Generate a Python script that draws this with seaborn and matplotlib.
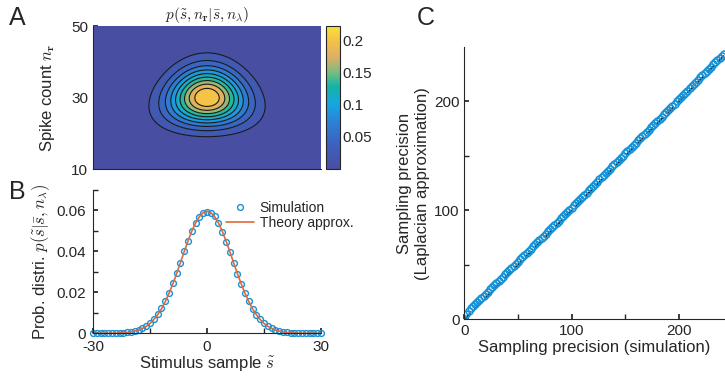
import matplotlib

matplotlib.use("Agg")

import matplotlib.pyplot as plt
import numpy as np
import pandas as pd
import seaborn as sns
from math import lgamma
from matplotlib.colors import LinearSegmentedColormap, Normalize
from matplotlib.cm import ScalarMappable
from matplotlib.ticker import MultipleLocator, FixedLocator, NullFormatter

# ---- panel A: joint distribution p(s~, n_r | s_bar, n_lambda) (model parameters)
stim_range = [-30, 30]
count_range = [10, 50]
mean_count = 30.0          # Poisson mean of spike count
stim_width_const = 1466.0  # variance of s~ is this / n_r  (sd ~7 at n_r = 30)
joint_peak = 0.222
contour_levels = [0.0, 0.0222, 0.0444, 0.0666, 0.0888, 0.111, 0.1332, 0.1554, 0.1776, 0.1998, 0.222]
cbar_ticks = [0.05, 0.1, 0.15, 0.2]
cbar_ticklabels = ["0.05", "0.1", "0.15", "0.2"]

# ---- panel B: marginal of s~
stim_sample = list(range(-30, 31))
sim_right = [0.0592, 0.0587, 0.0570, 0.0536, 0.0494, 0.0447, 0.0396, 0.0341, 0.0289, 0.0241,
             0.0194, 0.0155, 0.0120, 0.0090, 0.0068, 0.0049, 0.0035, 0.0025, 0.0017, 0.0011,
             0.0008, 0.0005, 0.0003, 0.0002, 0.0001, 0.0001, 0.0000, 0.0000, 0.0000, 0.0000, 0.0000]
sim_left = [0.0592, 0.0588, 0.0568, 0.0539, 0.0497, 0.0449, 0.0399, 0.0343, 0.0292, 0.0243,
            0.0197, 0.0156, 0.0122, 0.0092, 0.0069, 0.0050, 0.0036, 0.0025, 0.0017, 0.0012,
            0.0008, 0.0005, 0.0003, 0.0002, 0.0001, 0.0001, 0.0000, 0.0000, 0.0000, 0.0000, 0.0000]
theory_half = [0.0595, 0.0588, 0.0569, 0.0538, 0.0498, 0.0450, 0.0398, 0.0344, 0.0291, 0.0241,
               0.0195, 0.0154, 0.0119, 0.0090, 0.0067, 0.0048, 0.0034, 0.0024, 0.0016, 0.0011,
               0.0007, 0.0004, 0.0003, 0.0002, 0.0001, 0.0000, 0.0000, 0.0000, 0.0000, 0.0000, 0.0000]
sim_prob = sim_left[:0:-1] + sim_right
theory_prob = theory_half[:0:-1] + theory_half

# ---- panel C: sampling precision, simulation vs Laplacian approximation
sim_precision = [
    0, 2, 4, 6, 8, 10, 12, 14, 16, 18, 20, 22, 24, 26, 28, 30, 32, 34, 36, 38, 40,
    42, 44, 46, 48, 50, 52, 54, 56, 58, 60, 62, 64, 66, 68, 70, 72, 74, 76, 78, 80,
    82, 84, 86, 88, 90, 92, 94, 96, 98, 100, 102, 104, 106, 108, 110, 112, 114, 116, 118, 120,
    122, 124, 126, 128, 130, 132, 134, 136, 138, 140, 142, 144, 146, 148, 150, 152, 154, 156, 158, 160,
    162, 164, 166, 168, 170, 172, 174, 176, 178, 180, 182, 184, 186, 188, 190, 192, 194, 196, 198, 200,
    202, 204, 206, 208, 210, 212, 214, 216, 218, 220, 222, 224, 226, 228, 230, 232, 234, 236, 238, 240, 242]
laplace_precision = [
    0, 4.5, 8.0, 10.4, 12.2, 14.0, 15.9, 17.8, 19.7, 21.6, 23.5, 25.5, 27.5, 29.5, 31.4, 33.4, 35.4, 37.3, 39.3, 41.3, 43.2,
    45.2, 47.1, 49.1, 51.1, 53.0, 55.0, 57.0, 59.0, 60.9, 62.9, 64.9, 66.9, 68.8, 70.8, 72.8, 74.8, 76.7, 78.7, 80.7, 82.7,
    84.6, 86.6, 88.6, 90.6, 92.6, 94.6, 96.5, 98.5, 100.5, 102.5, 104.5, 106.5, 108.5, 110.4, 112.4, 114.4, 116.4, 118.4, 120.4, 122.4,
    124.4, 126.4, 128.4, 130.4, 132.3, 134.3, 136.3, 138.3, 140.3, 142.3, 144.3, 146.3, 148.3, 150.3, 152.3, 154.2, 156.2, 158.2, 160.2, 162.2,
    164.2, 166.2, 168.2, 170.2, 172.2, 174.1, 176.1, 178.1, 180.1, 182.1, 184.1, 186.1, 188.1, 190.1, 192.1, 194.0, 196.0, 198.0, 200.0, 202.0,
    204.0, 206.0, 208.0, 210.0, 212.0, 214.0, 216.0, 218.0, 220.0, 222.0, 224.0, 226.0, 228.0, 230.0, 232.0, 234.0, 236.0, 238.0, 240.0, 242.0, 244.0]
identity_ref = [0, 250]

SIM_BLUE = "#1591d6"
THEORY_ORANGE = "#e0693c"
AX_COLOR = "#262626"

sns.set_theme(style="ticks")
plt.rcParams["font.family"] = ["Liberation Sans", "DejaVu Sans"]
plt.rcParams.update({
    "mathtext.fontset": "cm",
    "axes.unicode_minus": False,
    "font.size": 10.5,
    "axes.edgecolor": AX_COLOR,
    "axes.labelcolor": AX_COLOR,
    "xtick.color": AX_COLOR,
    "ytick.color": AX_COLOR,
    "text.color": AX_COLOR,
    "xtick.direction": "in",
    "ytick.direction": "in",
    "xtick.major.size": 3.5,
    "ytick.major.size": 3.5,
    "axes.linewidth": 0.8,
})

# washed-out parula-like colormap, as in the reference
parula_like = LinearSegmentedColormap.from_list("parula_like", [
    (0.00, "#484ea2"), (0.18, "#3d62c0"), (0.33, "#2a82d6"), (0.45, "#16a6e0"),
    (0.58, "#13b4a6"), (0.68, "#7cbd7e"), (0.78, "#dcae66"), (0.90, "#f5c246"),
    (1.00, "#f6e23a")])

fig = plt.figure(figsize=(7.25, 3.79), dpi=100)

# ---------------- A
ax_a = fig.add_axes([0.1283, 0.554, 0.3145, 0.3773])
s_grid = np.linspace(stim_range[0], stim_range[1], 241)
n_grid = np.linspace(count_range[0], count_range[1], 201)
S, N = np.meshgrid(s_grid, n_grid)
log_pois = N * np.log(mean_count) - mean_count - np.vectorize(lgamma)(N + 1)
joint = np.exp(log_pois) * np.sqrt(N) * np.exp(-N * S ** 2 / (2 * stim_width_const))
joint = joint / joint.max() * joint_peak

norm = Normalize(vmin=contour_levels[0], vmax=contour_levels[-1])
band_colors = [parula_like(norm(lv)) for lv in contour_levels[:-1]]
ax_a.contourf(S, N, joint, levels=contour_levels, colors=band_colors, extend="max")
ax_a.contour(S, N, joint, levels=contour_levels[1:-1], colors="k", linewidths=0.8)
ax_a.set_xlim(stim_range)
ax_a.set_ylim(count_range)
ax_a.xaxis.set_major_locator(FixedLocator([-15, 0, 15]))
ax_a.xaxis.set_major_formatter(NullFormatter())
ax_a.yaxis.set_major_locator(FixedLocator([10, 30, 50]))
ax_a.yaxis.set_minor_locator(FixedLocator([20, 40]))
ax_a.tick_params(which="minor", direction="in", length=3.5, color=AX_COLOR)
ax_a.set_ylabel(r"Spike count $n_{\mathbf{r}}$", labelpad=10)
ax_a.set_title(r"$p(\tilde{s}, n_{\mathbf{r}}|\bar{s}, n_{\lambda})$", fontsize=11, pad=5)
for side in ["top", "right"]:
    ax_a.spines[side].set_visible(False)

cax = fig.add_axes([0.4497, 0.554, 0.0193, 0.3773])
sm = ScalarMappable(norm=norm, cmap=parula_like)
cb = fig.colorbar(sm, cax=cax, ticks=cbar_ticks)
cb.ax.set_yticklabels(cbar_ticklabels)
cb.ax.tick_params(direction="in", length=3, pad=2)
cb.outline.set_linewidth(0.8)

# ---------------- B
ax_b = fig.add_axes([0.1283, 0.1206, 0.3145, 0.3789])
df_b = pd.DataFrame({"s": stim_sample, "sim": sim_prob, "theory": theory_prob})
sns.lineplot(data=df_b, x="s", y="sim", ax=ax_b, linestyle="", marker="o", ms=4.2,
             mfc="none", mec=SIM_BLUE, mew=1.0, label="Simulation", clip_on=False)
sns.lineplot(data=df_b, x="s", y="theory", ax=ax_b, color=THEORY_ORANGE, lw=1.2,
             label="Theory approx.", clip_on=False)
ax_b.set_xlim(-30, 30)
ax_b.set_ylim(0, 0.07)
ax_b.xaxis.set_major_locator(FixedLocator([-30, 0, 30]))
ax_b.xaxis.set_minor_locator(FixedLocator([-15, 15]))
ax_b.yaxis.set_major_locator(FixedLocator([0, 0.02, 0.04, 0.06]))
ax_b.yaxis.set_minor_locator(MultipleLocator(0.01))
ax_b.set_yticklabels(["0", "0.02", "0.04", "0.06"])
ax_b.tick_params(which="minor", direction="in", length=3.5, color=AX_COLOR)
ax_b.tick_params(axis="x", which="major", pad=5)
ax_b.tick_params(axis="y", which="major", pad=5)
ax_b.set_xlabel(r"Stimulus sample $\tilde{s}$", labelpad=0)
ax_b.set_ylabel(r"Prob. distri. $p(\tilde{s}|\bar{s}, n_{\lambda})$", labelpad=3)
sns.despine(ax=ax_b)
ax_b.legend(loc="upper right", bbox_to_anchor=(0.495, 0.485), bbox_transform=fig.transFigure,
            frameon=False, fontsize=10, handlelength=2.0, handletextpad=0.4,
            borderaxespad=0, labelspacing=0.1)

# ---------------- C
ax_c = fig.add_axes([0.6404, 0.1575, 0.3596, 0.7185])
df_c = pd.DataFrame({"sim": sim_precision, "laplace": laplace_precision})
ax_c.plot(identity_ref, identity_ref, color="k", lw=1.3, ls=(0, (5, 3)), zorder=1)
sns.lineplot(data=df_c, x="sim", y="laplace", ax=ax_c, linestyle="", marker="o", ms=5.0,
             mfc="none", mec=SIM_BLUE, mew=1.1, sort=False, estimator=None, zorder=2)
ax_c.set_xlim(0, 243)
ax_c.set_ylim(0, 250)
ax_c.xaxis.set_major_locator(FixedLocator([0, 100, 200]))
ax_c.xaxis.set_minor_locator(FixedLocator([50, 150]))
ax_c.yaxis.set_major_locator(FixedLocator([0, 100, 200]))
ax_c.yaxis.set_minor_locator(FixedLocator([50, 150]))
ax_c.tick_params(which="minor", direction="in", length=3.5, color=AX_COLOR)
ax_c.set_xlabel("Sampling precision (simulation)", labelpad=1)
ax_c.set_ylabel("Sampling precision\n(Laplacian approximation)", labelpad=3)
sns.despine(ax=ax_c)

# panel letters
fig.text(0.012, 0.985, "A", fontsize=18, va="top", ha="left")
fig.text(0.012, 0.525, "B", fontsize=18, va="top", ha="left")
fig.text(0.575, 0.985, "C", fontsize=18, va="top", ha="left")

fig.savefig("out.png", dpi=100)
